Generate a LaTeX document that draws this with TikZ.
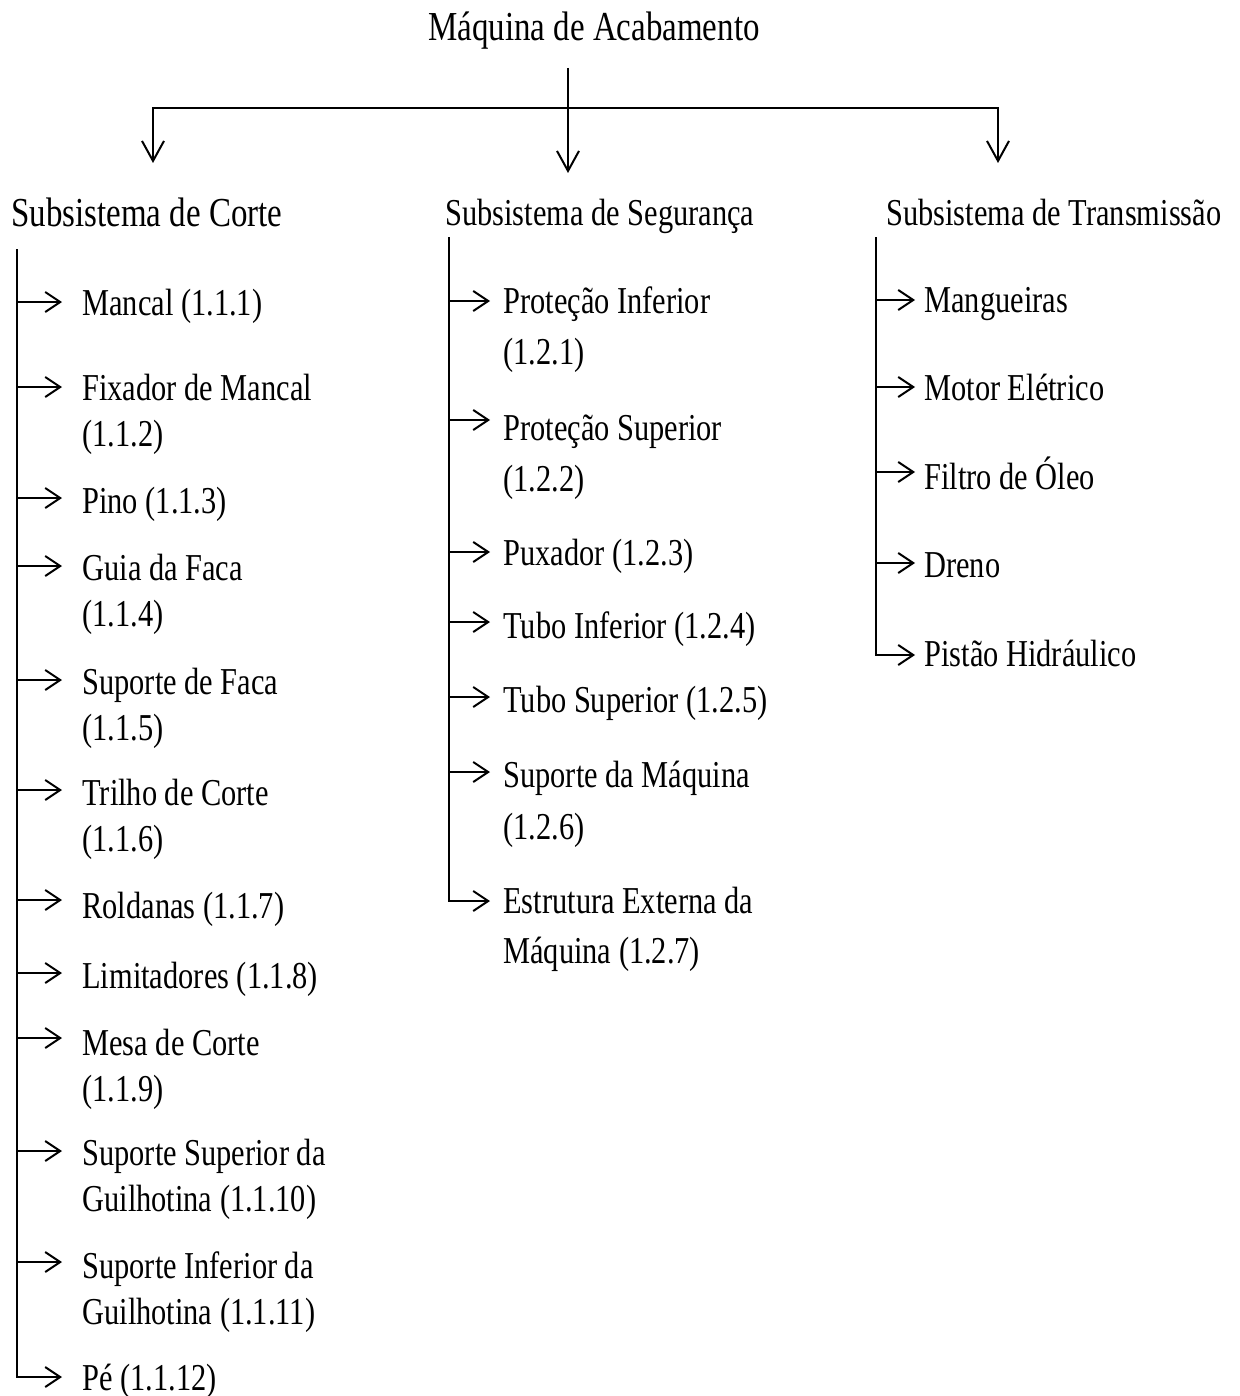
\documentclass[tikz,border=0pt]{standalone}
\usepackage{fontspec}
\usetikzlibrary{arrows.meta}
\newfontfamily\tnr{Liberation Serif}[FakeStretch=0.8]
\newcommand\twoln[3]{\vtop{\baselineskip=#1\hbox{#2}\hbox{#3}}}
\newcommand\citem[7]{%
  \coordinate (#1s) at (#2,#4);
  \coordinate (#1e) at (#3,#4);
  \node[itm, anchor=base west] (#1) at (#5,#6) {#7};
  \draw[arr] (#1s) -- (#1e);
}
\tikzset{
  itm/.style={inner sep=0pt, font=\tnr\fontsize{19}{23}\selectfont},
  head/.style={inner sep=0pt, font=\tnr\fontsize{19}{23}\selectfont},
  big/.style={inner sep=0pt, font=\tnr\fontsize{20.6}{25}\selectfont},
  arr/.style={-{Straight Barb[length=7.5pt,width=10pt]}, line width=1pt},
  trunk/.style={line width=1pt, line cap=rect},
  tb/.tip={Straight Barb[length=10pt,width=11pt]}
}
\begin{document}
\begin{tikzpicture}[x=0.5pt,y=-0.5pt]
\fill[white] (0,0) rectangle (1239,1396);
\useasboundingbox (0,0) rectangle (1239,1396);

% title and top connectors
\node[big, anchor=base west] (T) at (428,41) {Máquina de Acabamento};
\coordinate (ts) at (568,68);
\coordinate (a2) at (568,173);
\coordinate (bl) at (153,108);
\coordinate (br) at (998,108);
\coordinate (a1) at (153,163);
\coordinate (a3) at (998,163);
\draw[line width=1pt, -tb] (ts) -- (a2);
\draw[line width=1pt, tb-tb] (a1) -- (bl) -- (br) -- (a3);

% headings
\node[big, anchor=base west] (h1) at (11,227) {Subsistema de Corte};
\node[head, anchor=base west] (h2) at (445,226) {Subsistema de Segurança};
\node[head, anchor=base west] (h3) at (886,226) {Subsistema de Transmissão};

% column 1
\coordinate (t1) at (17,250);
\citem{i11}{17}{62}{302}{82}{315}{Mancal (1.1.1)}
\citem{i12}{17}{62}{387}{82}{400}{\twoln{23.25pt}{Fixador de Mancal}{(1.1.2)}}
\citem{i13}{17}{62}{498}{82}{513}{Pino (1.1.3)}
\citem{i14}{17}{62}{566}{82}{580}{\twoln{23.25pt}{Guia da Faca}{(1.1.4)}}
\citem{i15}{17}{62}{680}{82}{694}{\twoln{23.25pt}{Suporte de Faca}{(1.1.5)}}
\citem{i16}{17}{62}{790}{82}{805}{\twoln{23.25pt}{Trilho de Corte}{(1.1.6)}}
\citem{i17}{17}{62}{900}{82}{918}{Roldanas (1.1.7)}
\citem{i18}{17}{62}{973}{82}{988}{Limitadores (1.1.8)}
\citem{i19}{17}{62}{1038}{82}{1055}{\twoln{23.25pt}{Mesa de Corte}{(1.1.9)}}
\citem{i110}{17}{62}{1151}{82}{1165}{\twoln{23pt}{Suporte Superior da}{Guilhotina (1.1.10)}}
\citem{i111}{17}{62}{1262}{82}{1278}{\twoln{23pt}{Suporte Inferior da}{Guilhotina (1.1.11)}}
\citem{i112}{17}{62}{1377}{82}{1390}{Pé (1.1.12)}
\draw[trunk] (t1) -- (i112s);

% column 2
\coordinate (t2) at (449,238);
\citem{i21}{449}{490}{301}{503}{313}{\twoln{25.5pt}{Proteção Inferior}{(1.2.1)}}
\citem{i22}{449}{490}{420}{503}{440}{\twoln{25.5pt}{Proteção Superior}{(1.2.2)}}
\citem{i23}{449}{490}{552}{503}{565}{Puxador (1.2.3)}
\citem{i24}{449}{490}{622}{503}{638}{Tubo Inferior (1.2.4)}
\citem{i25}{449}{490}{697}{503}{712}{Tubo Superior (1.2.5)}
\citem{i26}{449}{490}{772}{503}{787}{\twoln{26pt}{Suporte da Máquina}{(1.2.6)}}
\citem{i27}{449}{490}{901}{503}{913}{\twoln{25pt}{Estrutura Externa da}{Máquina (1.2.7)}}
\draw[trunk] (t2) -- (i27s);

% column 3
\coordinate (t3) at (876,238);
\citem{i31}{876}{915}{300}{924}{312}{Mangueiras}
\citem{i32}{876}{915}{387}{924}{400}{Motor Elétrico}
\citem{i33}{876}{915}{472}{924}{489}{Filtro de Óleo}
\citem{i34}{876}{915}{563}{924}{577}{Dreno}
\citem{i35}{876}{915}{655}{924}{666}{Pistão Hidráulico}
\draw[trunk] (t3) -- (i35s);
\end{tikzpicture}
\end{document}
